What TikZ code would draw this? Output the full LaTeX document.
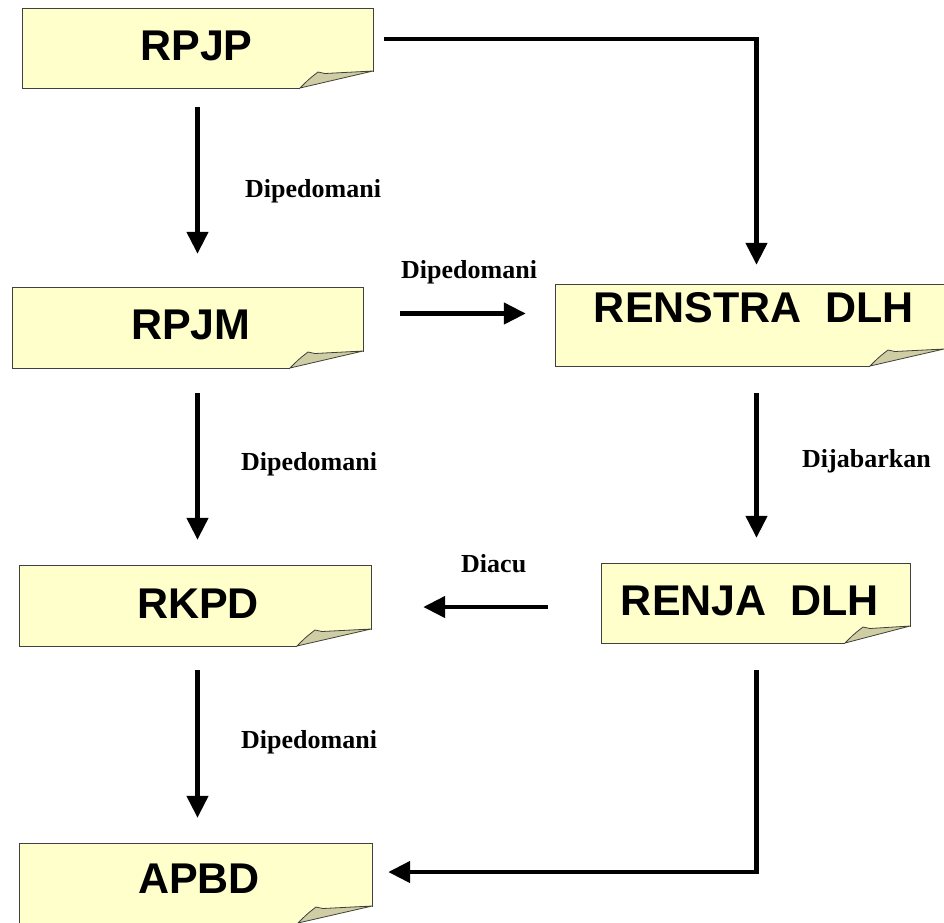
\documentclass[tikz,border=0pt]{standalone}
\usepackage{fontspec}
\setmainfont{Liberation Serif}
\newfontfamily\arialfont{Liberation Sans}
\usetikzlibrary{arrows.meta,fit}
\definecolor{notefillc}{HTML}{FFFFCC}
\definecolor{foldc}{HTML}{CFCDA3}
\definecolor{notelinec}{HTML}{404040}
\tikzset{
  notefill/.style={fill=notefillc},
  noteline/.style={draw=notelinec,line width=1pt},
  foldstyle/.style={fill=foldc,draw=notelinec,line width=0.8pt,line join=round},
  boxtext/.style={font=\arialfont\bfseries\fontsize{43}{43}\selectfont,anchor=base,inner sep=0pt},
  lbl/.style={font=\bfseries\fontsize{26}{26}\selectfont,anchor=base west,inner sep=0pt},
  arr/.style={line width=4.5pt,-{Triangle[width=21pt,length=22pt]}}
}
\newcommand\notebox[6]{%
  \fill[notefill] (#2,#3) -- (#4,#3) -- (#4,#5-16) -- (#4-#6,#5) -- (#2,#5) -- cycle;
  \draw[noteline] (#4-#6,#5) -- (#2,#5) -- (#2,#3) -- (#4,#3) -- (#4,#5-16);
  \filldraw[foldstyle] (#4-#6,#5) .. controls (#4-#6+9,#5-9) .. (#4-#6+18,#5-16) -- (#4-#6+25,#5-14.5) -- (#4,#5-17) -- cycle;
  \node[fit={(#2,#3)(#4,#5)},inner sep=0pt] (#1) {};
}
\begin{document}
\begin{tikzpicture}[x=1pt,y=-1pt]
\useasboundingbox (0,0) rectangle (944,922);
\notebox{rpjp}{22}{8}{373}{88}{73}
\notebox{rpjm}{12}{287}{363}{368}{73}
\notebox{renstra}{555}{284}{944}{366}{74}
\notebox{rkpd}{19}{565}{371}{646}{74}
\notebox{renja}{601}{563}{910}{643}{65}
\notebox{apbd}{19}{843}{372}{923}{74}
\node[boxtext] (rpjpt) at (196.5,60) {RPJP};
\node[boxtext] (rpjmt) at (191,339) {RPJM};
\node[boxtext] (renstrat) at (754,322) {RENSTRA\ \ DLH};
\node[boxtext] (rkpdt) at (198,618) {RKPD};
\node[boxtext] (renjat) at (750,615) {RENJA\ \ DLH};
\node[boxtext] (apbdt) at (199,893) {APBD};
% labels
\node[lbl] (l1) at (245,197) {Dipedomani};
\node[lbl] (l2) at (401,278) {Dipedomani};
\node[lbl] (l3) at (241,470) {Dipedomani};
\node[lbl] (l4) at (241,748) {Dipedomani};
\node[lbl] (l5) at (802,467) {Dijabarkan};
\node[lbl] (l6) at (461,572) {Diacu};
% arrows
\draw[arr,shorten <=19pt,shorten >=33pt] (rpjp.south) -- (rpjp.south |- rpjm.north);
\draw[arr,shorten <=25pt,shorten >=25pt] (rpjp.south |- rpjm.south) -- (rpjp.south |- rkpd.north);
\draw[arr,shorten <=24pt,shorten >=25pt] (rpjp.south |- rkpd.south) -- (rpjp.south |- apbd.north);
\draw[arr,shorten <=11pt,shorten >=19pt] ([yshift=9pt]rpjp.east) -| ([xshift=7pt]renstra.north);
\draw[arr,shorten <=37pt,shorten >=29pt] ([yshift=14pt]rpjm.east) -- ([yshift=14pt]rpjm.east -| renstra.west);
\draw[arr,shorten <=27pt,shorten >=25pt] ([xshift=7pt]renstra.south) -- ([xshift=7pt]renstra.south |- renja.north);
\draw[arr,shorten <=53pt,shorten >=52pt] ([yshift=-4pt]renja.west) -- ([yshift=-4pt]renja.west -| rkpd.east);
\draw[arr,shorten <=27pt,shorten >=16pt] ([xshift=7pt]renstra.south |- renja.south) |- ([yshift=11pt]apbd.east);
\end{tikzpicture}
\end{document}
